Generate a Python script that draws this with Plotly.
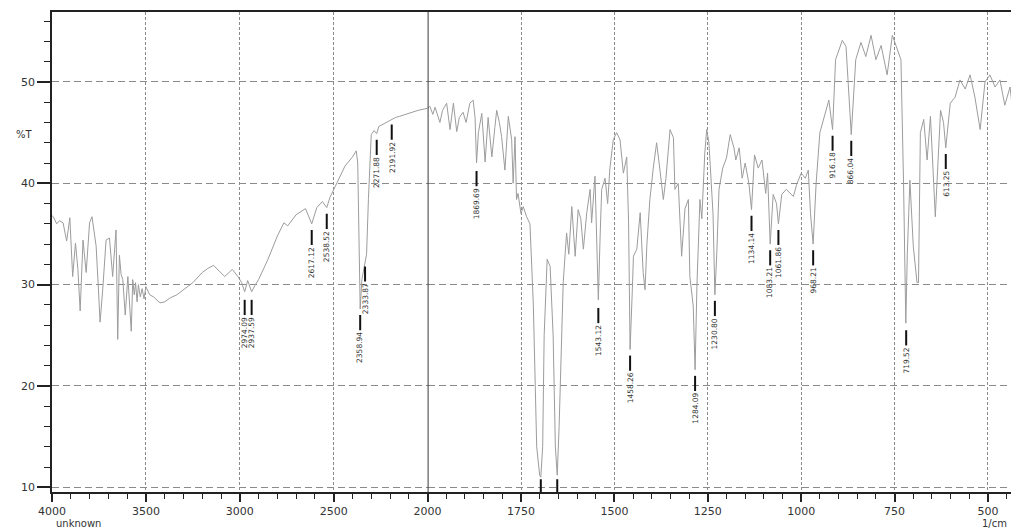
import plotly.graph_objects as go

# ---------------- data: 4000-2000 1/cm segment ----------------
wn_hi = [4000, 3993, 3975, 3960, 3941, 3922, 3905, 3890, 3875, 3862, 3850, 3835, 3818, 3800,
         3787, 3775, 3765, 3754, 3744, 3730, 3712, 3694, 3677, 3659, 3650, 3641, 3632, 3623,
         3610, 3596, 3587, 3578, 3570, 3562, 3555, 3547, 3540, 3530, 3520, 3510, 3500, 3480,
         3460, 3440, 3425, 3400, 3370, 3335, 3300, 3250, 3200, 3170, 3140, 3110, 3080, 3040,
         3010, 2990, 2974, 2958, 2937, 2920, 2900, 2850, 2800, 2765, 2745, 2700, 2650, 2617,
         2590, 2560, 2537, 2520, 2480, 2440, 2400, 2380, 2372, 2359, 2350, 2333, 2325, 2315,
         2300, 2285, 2271, 2260, 2230, 2191, 2170, 2150, 2100, 2050, 2000]
t_hi = [36.8, 36.7, 36.0, 36.3, 36.1, 34.3, 36.6, 30.8, 34.1, 31.5, 27.4, 34.4, 31.2, 36.1,
        36.7, 35.0, 33.8, 30.0, 26.3, 29.5, 34.4, 34.6, 30.8, 35.4, 24.6, 32.9, 31.0, 30.5,
        27.0, 30.8, 28.0, 25.4, 30.5, 29.0, 30.2, 28.3, 30.0, 28.8, 29.6, 28.6, 29.8, 29.0,
        28.8, 28.4, 28.2, 28.3, 28.7, 29.0, 29.5, 30.2, 31.2, 31.6, 31.9, 31.3, 30.8, 31.5,
        30.8, 30.2, 29.3, 30.4, 29.3, 29.9, 30.5, 32.5, 34.8, 36.1, 35.8, 36.9, 37.5, 36.0,
        37.6, 38.2, 37.6, 38.6, 40.2, 41.7, 42.6, 43.2, 42.0, 27.6, 30.5, 32.4, 33.0, 38.5,
        44.8, 45.2, 44.9, 45.6, 45.9, 46.3, 46.5, 46.6, 46.9, 47.2, 47.4]

# ---------------- data: 2000-400 1/cm segment ----------------
wn_lo = [2000, 1994, 1986, 1980, 1967, 1960, 1949, 1940, 1931, 1922, 1915, 1905, 1897, 1887,
         1878, 1873, 1869, 1864, 1855, 1846, 1838, 1828, 1820, 1815, 1808, 1802, 1793, 1784,
         1775, 1771, 1766, 1762, 1758, 1750, 1744, 1735, 1726, 1717, 1708, 1700, 1697, 1692,
         1688, 1680, 1672, 1664, 1658, 1653, 1648, 1640, 1637, 1628, 1622, 1614, 1605, 1597,
         1590, 1583, 1574, 1565, 1561, 1552, 1547, 1543, 1538, 1534, 1525, 1518, 1512, 1503,
         1494, 1485, 1476, 1467, 1462, 1458, 1452, 1449, 1440, 1431, 1423, 1418, 1413, 1405,
         1396, 1387, 1378, 1369, 1362, 1351, 1342, 1338, 1329, 1320, 1311, 1302, 1298, 1289,
         1284, 1279, 1271, 1266, 1258, 1253, 1247, 1241, 1236, 1231, 1226, 1220, 1210, 1200,
         1190, 1180, 1175, 1166, 1158, 1150, 1140, 1133, 1125, 1115, 1105, 1095, 1090, 1083,
         1075, 1066, 1061, 1052, 1040, 1021, 1012, 1000, 989, 981, 975, 968, 960, 950,
         940, 930, 926, 916, 908, 890, 880, 866, 854, 840, 827, 813, 800, 786,
         770, 756, 743, 733, 726, 720, 716, 709, 700, 690, 686, 681, 672, 663,
         654, 641, 627, 619, 613, 601, 588, 575, 561, 548, 535, 521, 508, 495,
         481, 468, 455, 441, 430, 425, 417]
t_lo = [47.4, 47.6, 46.8, 47.5, 46.0, 47.2, 47.9, 45.3, 47.9, 45.1, 46.5, 47.0, 46.0, 47.9,
        48.2, 46.5, 42.0, 45.0, 46.9, 42.1, 46.5, 42.6, 45.5, 47.2, 46.0, 44.6, 41.3, 46.6,
        44.3, 40.0, 44.6, 38.4, 39.0, 37.0, 37.7, 36.7, 36.0, 28.0, 14.0, 11.2, 11.0, 14.0,
        25.0, 32.5, 31.8, 25.0, 14.0, 11.2, 16.0, 26.0, 30.2, 35.1, 33.0, 37.7, 32.8, 37.4,
        36.5, 33.5, 37.1, 39.4, 36.1, 40.7, 34.0, 28.5, 35.0, 39.4, 40.5, 38.0, 41.5, 44.3,
        45.0, 44.3, 41.0, 42.6, 36.1, 23.6, 29.5, 32.8, 33.5, 37.1, 31.2, 29.5, 34.0, 38.4,
        41.5, 44.0, 41.3, 38.4, 40.5, 45.3, 44.5, 39.4, 40.0, 32.8, 37.5, 38.4, 30.8, 27.9,
        21.6, 30.0, 38.4, 36.5, 43.0, 45.3, 44.0, 40.0, 37.0, 29.0, 33.0, 39.4, 41.5, 42.5,
        44.8, 43.5, 42.3, 43.5, 40.5, 42.0, 40.0, 37.4, 42.8, 41.5, 42.3, 39.0, 41.0, 34.0,
        38.9, 38.0, 36.0, 38.9, 39.4, 38.7, 39.9, 41.0, 40.5, 41.3, 37.0, 34.0, 40.0, 45.0,
        46.3, 47.6, 48.2, 45.3, 52.2, 54.1, 53.5, 44.8, 52.2, 53.9, 52.5, 54.6, 52.2, 53.6,
        50.7, 54.6, 53.2, 52.2, 40.0, 26.2, 33.0, 40.3, 33.8, 30.2, 30.2, 45.0, 46.3, 42.3,
        46.6, 36.7, 47.2, 46.0, 43.5, 47.9, 48.5, 50.2, 49.3, 50.7, 48.5, 45.3, 50.0, 50.7,
        49.5, 50.2, 47.7, 49.5, 46.0, 40.0, 34.4]

# ---------------- peak labels ----------------
pk_text_hi = ["2974.09", "2937.59", "2617.12", "2538.52", "2358.94", "2333.87", "2271.88", "2191.92"]
pk_wn_hi = [2974, 2937, 2617, 2537, 2359, 2333, 2271, 2191]
pk_t_hi = [28.5, 28.5, 35.4, 37.0, 27.0, 31.8, 44.3, 45.8]

pk_text_lo = ["1869.69", "", "", "1543.12", "1458.26", "1284.09", "1230.80", "1134.14",
              "1083.21", "1061.86", "968.21", "916.18", "866.04", "719.52", "613.25"]
pk_wn_lo = [1869, 1697, 1653, 1543, 1458, 1284, 1231, 1133, 1083, 1061, 968, 916, 866, 719, 613]
pk_t_lo = [41.2, 10.8, 10.8, 27.7, 23.0, 21.0, 28.4, 36.8, 33.4, 35.4, 33.4, 44.7, 44.2, 25.5, 42.9]

BAR = 1.5
FONT = "DejaVu Sans, Liberation Sans, Arial"
SPLIT = 375.6 / 967.0

fig = go.Figure()
fig.add_trace(go.Scatter(x=wn_hi, y=t_hi, mode="lines", xaxis="x", yaxis="y",
                         line=dict(color="#9c9c9c", width=1), showlegend=False, hoverinfo="skip"))
fig.add_trace(go.Scatter(x=wn_lo, y=t_lo, mode="lines", xaxis="x2", yaxis="y",
                         line=dict(color="#9c9c9c", width=1), showlegend=False, hoverinfo="skip"))


def bars(wns, ts):
    bx, by = [], []
    for w, t in zip(wns, ts):
        bx += [w, w, None]
        by += [t, t - BAR, None]
    return bx, by


bx, by = bars(pk_wn_hi, pk_t_hi)
fig.add_trace(go.Scatter(x=bx, y=by, mode="lines", xaxis="x", yaxis="y",
                         line=dict(color="#111", width=2), showlegend=False, hoverinfo="skip"))
bx, by = bars(pk_wn_lo, pk_t_lo)
fig.add_trace(go.Scatter(x=bx, y=by, mode="lines", xaxis="x2", yaxis="y",
                         line=dict(color="#111", width=2), showlegend=False, hoverinfo="skip"))

annotations = []
for txt, w, t in zip(pk_text_hi, pk_wn_hi, pk_t_hi):
    annotations.append(dict(x=w, y=t - BAR, xref="x", yref="y", text=txt, showarrow=False,
                            textangle=-90, xanchor="center", yanchor="top",
                            font=dict(family=FONT, size=7.5, color="#333")))
for txt, w, t in zip(pk_text_lo, pk_wn_lo, pk_t_lo):
    if txt:
        annotations.append(dict(x=w, y=t - BAR, xref="x2", yref="y", text=txt, showarrow=False,
                                textangle=-90, xanchor="center", yanchor="top",
                                font=dict(family=FONT, size=7.5, color="#333")))

annotations += [
    dict(x=-0.028, y=0.744, xref="paper", yref="paper", text="%T", showarrow=False,
         xanchor="center", yanchor="middle", font=dict(family=FONT, size=10, color="#333")),
    dict(x=0.002, y=-0.0655, xref="paper", yref="paper", text="unknown", showarrow=False,
         xanchor="left", yanchor="middle", font=dict(family=FONT, size=10, color="#333")),
    dict(x=0.990, y=-0.0655, xref="paper", yref="paper", text="1/cm", showarrow=False,
         xanchor="right", yanchor="middle", font=dict(family=FONT, size=10, color="#333")),
]

tickfont = dict(family=FONT, size=11, color="#333")
common_x = dict(showline=True, linecolor="#222", linewidth=1.5, mirror=True,
                ticks="outside", ticklen=8, tickwidth=1.5, tickcolor="#222",
                tickfont=tickfont, showgrid=True, gridcolor="#8a8a8a", gridwidth=1,
                griddash="3px,2px", zeroline=False, anchor="y")

# page body has an 8px margin: figure sized/margined so plot area spans x 52..1019, y 12..492
fig.update_layout(
    width=1011, height=524,
    margin=dict(l=44, r=0, t=4, b=40, autoexpand=False),
    paper_bgcolor="white", plot_bgcolor="white",
    xaxis=dict(domain=[0, SPLIT], range=[4000, 2000], tickmode="linear", tick0=0, dtick=500,
               minor=dict(tickmode="linear", tick0=0, dtick=100, ticks="outside", ticklen=5,
                          tickcolor="#222", tickwidth=1.2, showgrid=False),
               **common_x),
    xaxis2=dict(domain=[SPLIT, 1], range=[2000, 417], tickmode="array",
                tickvals=[1750, 1500, 1250, 1000, 750, 500],
                minor=dict(tickmode="linear", tick0=0, dtick=50, ticks="outside", ticklen=5,
                           tickcolor="#222", tickwidth=1.2, showgrid=False),
                **common_x),
    yaxis=dict(range=[9.54, 56.9], anchor="x", tickmode="linear", tick0=0, dtick=10,
               showline=True, linecolor="#222", linewidth=1.5, mirror=False,
               ticks="outside", ticklen=13, tickwidth=1.5, tickcolor="#222", tickfont=tickfont,
               minor=dict(tickmode="linear", tick0=0, dtick=2, ticks="outside", ticklen=6,
                          tickcolor="#222", tickwidth=1.2, showgrid=False),
               showgrid=True, gridcolor="#8a8a8a", gridwidth=1, griddash="7px,4px",
               zeroline=False),
    shapes=[dict(type="line", xref="x2", yref="paper", x0=2000, x1=2000, y0=0, y1=1,
                 line=dict(color="#3a3a3a", width=2), layer="above")],
    annotations=annotations,
)

fig.write_html("out.html")
